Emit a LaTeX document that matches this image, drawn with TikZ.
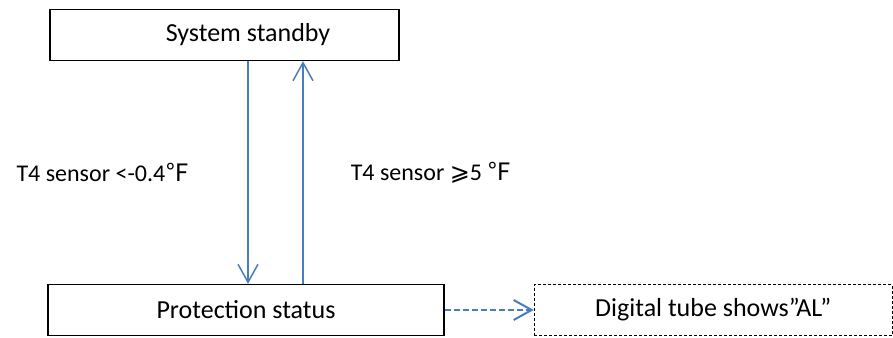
\documentclass[tikz,border=0pt]{standalone}
\usepackage{fontspec}
\setmainfont{Carlito}
\newfontfamily\cjk{Noto Sans CJK SC}
\newfontfamily\symfont{DejaVu Sans}
\usetikzlibrary{arrows.meta, positioning}

\definecolor{flowblue}{RGB}{74,126,187}

\tikzset{
  statebox/.style={draw, line width=1.4pt, minimum height=51pt, inner sep=0pt,
    font=\fontsize{26}{30}\selectfont},
  condlabel/.style={font=\fontsize{24}{28}\selectfont, inner sep=0pt},
  flow/.style={draw=flowblue, line width=1.5pt, -{Straight Barb[length=18pt,width=20pt]}}
}

\begin{document}
\begin{tikzpicture}[x=1pt,y=-1pt]
    \useasboundingbox (0,0) rectangle (893,337);

    \node[statebox, minimum width=349pt]  (standby) at (224.5,35)    {\hspace*{47pt}System standby};
    \node[statebox, minimum width=396pt]  (prot)    at (246,310)     {Protection status};
    \node[statebox, dashed, line width=1.2pt, dash pattern=on 3pt off 2pt,
          minimum width=358pt]            (tube)    [right=89pt of prot] {Digital tube shows”AL”};

    \draw[flow] ([xshift=23.5pt]standby.south) -- ([xshift=23.5pt]standby.south |- prot.north)
        node[condlabel, midway, left=58pt] (lowtemp) {T4 sensor <-0.4{\cjk ℉}};
    \draw[flow] ([xshift=57pt]prot.north) -- ([xshift=57pt]prot.north |- standby.south)
        node[condlabel, midway, right=47pt] (hightemp) {T4 sensor {\symfont ⩾}5 {\cjk ℉}};
    \draw[flow, line width=2pt, dash pattern=on 6pt off 3pt] (prot.east) -- (tube.west);
\end{tikzpicture}
\end{document}
